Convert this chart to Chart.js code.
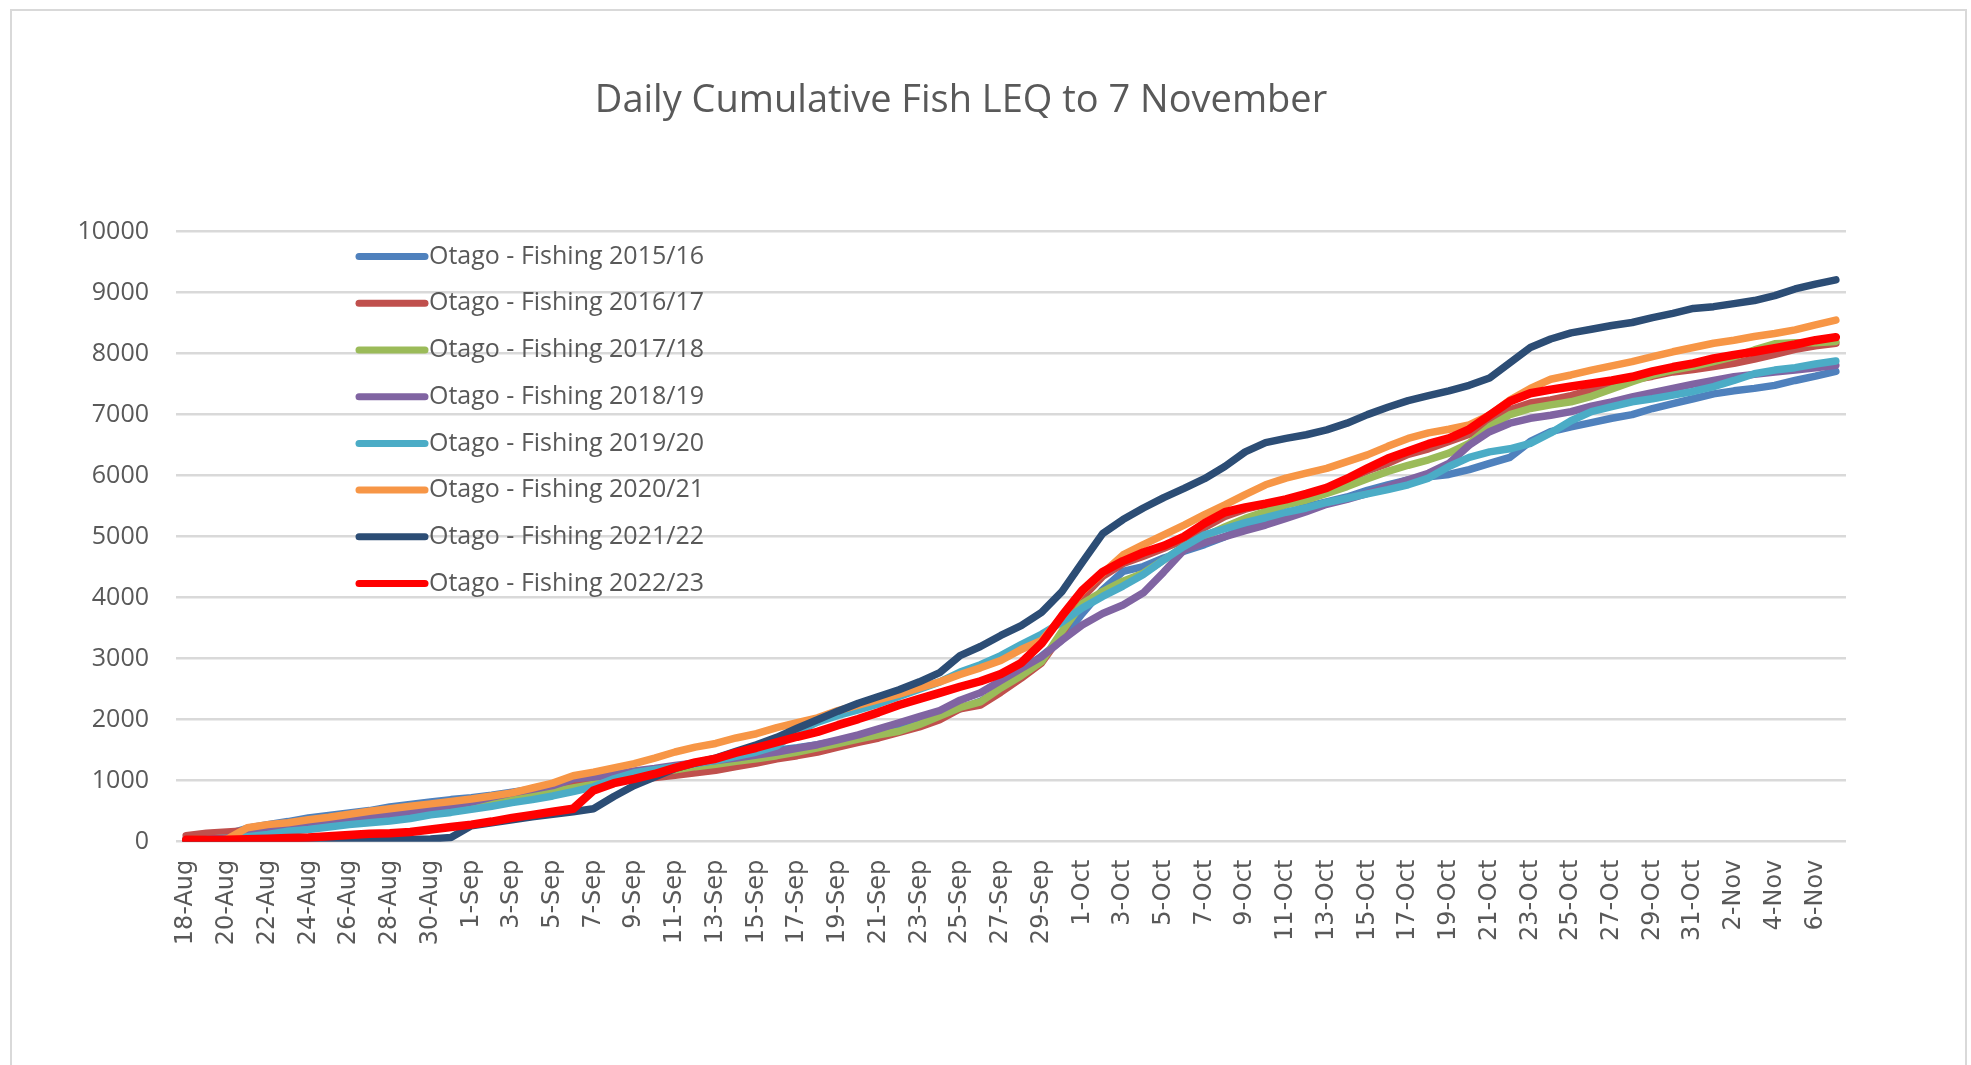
<!DOCTYPE html>
<html>
<head>
<meta charset="utf-8">
<title>Daily Cumulative Fish LEQ to 7 November</title>
<script src="https://cdn.jsdelivr.net/npm/chart.js@4.4.0/dist/chart.umd.min.js"></script>
<style>
  html, body { margin: 0; padding: 0; background: #ffffff; }
  canvas { display: block; }
</style>
</head>
<body>
<canvas id="leqChart" width="1971" height="1065"></canvas>
<script>
// categories: one per day, 18 Aug to 7 Nov
const days = [
  '18-Aug','19-Aug','20-Aug','21-Aug','22-Aug','23-Aug','24-Aug','25-Aug','26-Aug','27-Aug',
  '28-Aug','29-Aug','30-Aug','31-Aug','1-Sep','2-Sep','3-Sep','4-Sep','5-Sep','6-Sep',
  '7-Sep','8-Sep','9-Sep','10-Sep','11-Sep','12-Sep','13-Sep','14-Sep','15-Sep','16-Sep',
  '17-Sep','18-Sep','19-Sep','20-Sep','21-Sep','22-Sep','23-Sep','24-Sep','25-Sep','26-Sep',
  '27-Sep','28-Sep','29-Sep','30-Sep','1-Oct','2-Oct','3-Oct','4-Oct','5-Oct','6-Oct',
  '7-Oct','8-Oct','9-Oct','10-Oct','11-Oct','12-Oct','13-Oct','14-Oct','15-Oct','16-Oct',
  '17-Oct','18-Oct','19-Oct','20-Oct','21-Oct','22-Oct','23-Oct','24-Oct','25-Oct','26-Oct',
  '27-Oct','28-Oct','29-Oct','30-Oct','31-Oct','1-Nov','2-Nov','3-Nov','4-Nov','5-Nov',
  '6-Nov','7-Nov'
];

const seriesNames = [
  'Otago - Fishing 2015/16', 'Otago - Fishing 2016/17', 'Otago - Fishing 2017/18',
  'Otago - Fishing 2018/19', 'Otago - Fishing 2019/20', 'Otago - Fishing 2020/21',
  'Otago - Fishing 2021/22', 'Otago - Fishing 2022/23'
];
const seriesColors = ['#4F81BD', '#C0504D', '#9BBB59', '#8064A2', '#4BACC6', '#F79646', '#2C4D75', '#FF0000'];

// cumulative LEQ per season
const fishing1516 = [
  50,80,120,220,280,330,390,430,470,510, 570,610,650,690,720,760,810,860,920,980,
  1010,1060,1120,1170,1220,1270,1330,1380,1440,1500, 1540,1590,1650,1720,1800,1880,1970,2060,2180,2300,
  2480,2760,3040,3310,3740,4130,4430,4510,4650,4760, 4870,5000,5140,5270,5380,5490,5570,5650,5760,5850,
  5930,5980,6020,6100,6200,6300,6560,6720,6800,6870, 6940,7000,7100,7180,7260,7340,7390,7430,7480,7560,
  7630,7710
];
const fishing1617 = [
  100,140,160,180,200,230,270,310,350,400, 440,490,540,590,640,690,750,810,870,930,
  970,1000,1020,1050,1090,1130,1170,1230,1290,1360, 1410,1470,1550,1630,1700,1790,1880,2000,2180,2240,
  2450,2680,2930,3400,4000,4350,4560,4680,4810,4950, 5150,5330,5450,5530,5600,5680,5780,5930,6080,6200,
  6350,6440,6560,6680,6860,7080,7190,7240,7310,7400, 7500,7570,7630,7700,7740,7790,7840,7910,7990,8070,
  8130,8170
];
const fishing1718 = [
  30,40,60,100,140,180,220,260,300,350, 400,450,500,540,590,640,700,760,820,880,
  940,1020,1080,1140,1180,1230,1270,1320,1360,1410, 1470,1540,1610,1680,1750,1810,1920,2060,2200,2290,
  2520,2720,2950,3450,3900,4100,4270,4400,4620,4840, 5000,5160,5300,5410,5520,5600,5710,5820,5950,6070,
  6170,6260,6370,6530,6800,7000,7100,7160,7210,7300, 7420,7540,7650,7730,7790,7870,7950,8060,8160,8180,
  8180,8200
];
const fishing1819 = [
  20,40,60,120,160,210,250,300,340,390, 440,490,540,590,650,730,800,860,920,1030,
  1060,1100,1160,1200,1250,1290,1330,1370,1420,1470, 1530,1590,1670,1750,1850,1950,2050,2150,2320,2440,
  2640,2840,3030,3300,3550,3740,3880,4080,4420,4780, 4900,5000,5100,5190,5300,5410,5530,5610,5710,5820,
  5930,6040,6200,6500,6720,6860,6940,6990,7050,7140, 7210,7290,7360,7430,7500,7560,7620,7660,7700,7730,
  7770,7810
];
const fishing1920 = [
  10,20,40,80,120,170,200,240,280,310, 340,380,440,480,530,580,640,690,750,820,
  900,1030,1130,1180,1230,1280,1330,1400,1470,1570, 1800,1960,2070,2160,2260,2380,2500,2620,2780,2900,
  3050,3230,3400,3600,3830,4020,4190,4380,4620,4840, 5030,5130,5230,5310,5400,5470,5560,5630,5700,5770,
  5850,5960,6150,6300,6390,6440,6530,6700,6900,7050, 7130,7210,7260,7320,7380,7460,7560,7670,7730,7770,
  7830,7880
];
const fishing2021 = [
  0,0,40,230,280,310,360,400,450,500, 540,580,620,660,700,750,800,880,960,1080,
  1140,1210,1280,1370,1470,1550,1610,1700,1770,1870, 1950,2030,2150,2240,2330,2420,2520,2620,2740,2850,
  2970,3150,3300,3690,4100,4400,4700,4870,5030,5190, 5360,5520,5690,5850,5960,6040,6120,6230,6340,6480,
  6610,6700,6760,6830,6990,7240,7430,7580,7650,7730, 7800,7870,7950,8030,8100,8170,8220,8280,8330,8390,
  8470,8550
];
const fishing2122 = [
  0,0,0,0,0,5,10,15,20,25, 30,35,45,70,260,310,360,410,450,490,
  540,740,920,1060,1200,1290,1370,1480,1590,1710, 1860,2000,2140,2270,2380,2490,2620,2770,3050,3200,
  3380,3540,3760,4100,4580,5050,5280,5470,5640,5790, 5950,6150,6390,6540,6610,6670,6750,6860,7000,7120,
  7230,7310,7390,7480,7600,7850,8100,8240,8340,8400, 8460,8510,8590,8660,8740,8770,8820,8870,8950,9060,
  9140,9210
];
const fishing2223 = [
  30,30,30,40,50,60,70,90,110,130, 140,160,200,240,280,330,390,440,490,540,
  840,960,1030,1110,1210,1300,1360,1460,1540,1630, 1720,1800,1910,2010,2120,2240,2340,2440,2540,2630,
  2750,2930,3250,3700,4120,4420,4600,4740,4850,5000, 5220,5400,5480,5540,5610,5700,5800,5950,6120,6280,
  6400,6520,6610,6760,6990,7220,7350,7410,7460,7510, 7560,7620,7710,7780,7840,7920,7980,8030,8090,8150,
  8220,8270
];
const seriesValues = [fishing1516, fishing1617, fishing1718, fishing1819, fishing1920, fishing2021, fishing2122, fishing2223];

const yTicks = [0, 1000, 2000, 3000, 4000, 5000, 6000, 7000, 8000, 9000, 10000];

const GREY = '#595959';
Chart.defaults.font.family = "'Open Sans', sans-serif";
Chart.defaults.color = GREY;

// white page with the thin grey frame round the chart
const frame = {
  id: 'frame',
  beforeDraw(chart) {
    const ctx = chart.ctx;
    ctx.save();
    ctx.fillStyle = '#ffffff';
    ctx.fillRect(0, 0, chart.width, chart.height);
    ctx.strokeStyle = '#D9D9D9';
    ctx.lineWidth = 2;
    ctx.strokeRect(11, 10, 1955, 1100);
    ctx.restore();
  }
};

// legend sits inside the plot, top left, one entry per row
const innerLegend = {
  id: 'innerLegend',
  afterDatasetsDraw(chart) {
    const ctx = chart.ctx;
    const area = chart.chartArea;
    const x0 = area.left + 183;
    ctx.save();
    ctx.font = "25px 'Open Sans'";
    ctx.textBaseline = 'middle';
    ctx.textAlign = 'left';
    ctx.lineCap = 'round';
    chart.data.datasets.forEach((ds, k) => {
      const y = area.top + 25 + k * 46.7;
      ctx.strokeStyle = ds.borderColor;
      ctx.lineWidth = 7;
      ctx.beginPath();
      ctx.moveTo(x0, y);
      ctx.lineTo(x0 + 66, y);
      ctx.stroke();
      ctx.fillStyle = GREY;
      ctx.fillText(ds.label, x0 + 70, y);
    });
    ctx.restore();
  }
};

const datasets = seriesNames.map((name, k) => ({
  label: name,
  data: seriesValues[k],
  borderColor: seriesColors[k],
  backgroundColor: seriesColors[k],
  borderWidth: k === 7 ? 8.5 : 7.5,
  borderCapStyle: 'round',
  borderJoinStyle: 'round',
  pointRadius: 0,
  tension: 0,
  order: seriesNames.length - k
}));

new Chart(document.getElementById('leqChart'), {
  type: 'line',
  data: { labels: days, datasets: datasets },
  options: {
    responsive: false,
    animation: false,
    devicePixelRatio: 1,
    layout: { padding: { left: 76, right: 125, top: 0, bottom: 0 } },
    plugins: {
      legend: { display: false },
      tooltip: { enabled: false },
      title: {
        display: true,
        text: 'Daily Cumulative Fish LEQ to 7 November',
        color: GREY,
        font: { size: 38, weight: 'normal' },
        padding: { top: 78, bottom: 108 }
      }
    },
    scales: {
      x: {
        type: 'category',
        offset: true,
        grid: { display: false, drawTicks: false },
        border: { display: false },
        ticks: {
          autoSkip: false,
          maxRotation: 90,
          minRotation: 90,
          padding: 18,
          color: GREY,
          font: { family: "'DejaVu Sans', sans-serif", size: 24 },
          callback: (v, i) => (i % 2 === 0 ? days[i] : '')
        },
        afterFit: (s) => { s.height = 223.3; }
      },
      y: {
        min: 0,
        max: 10000,
        afterBuildTicks: (s) => { s.ticks = yTicks.map(v => ({ value: v })); },
        grid: { color: '#D9D9D9', lineWidth: 2.5, drawTicks: false },
        border: { display: false },
        ticks: {
          padding: 27,
          color: GREY,
          font: { size: 25 },
          callback: (v) => String(v)
        },
        afterFit: (s) => { s.width = 100; }
      }
    }
  },
  plugins: [frame, innerLegend]
});
</script>
</body>
</html>
